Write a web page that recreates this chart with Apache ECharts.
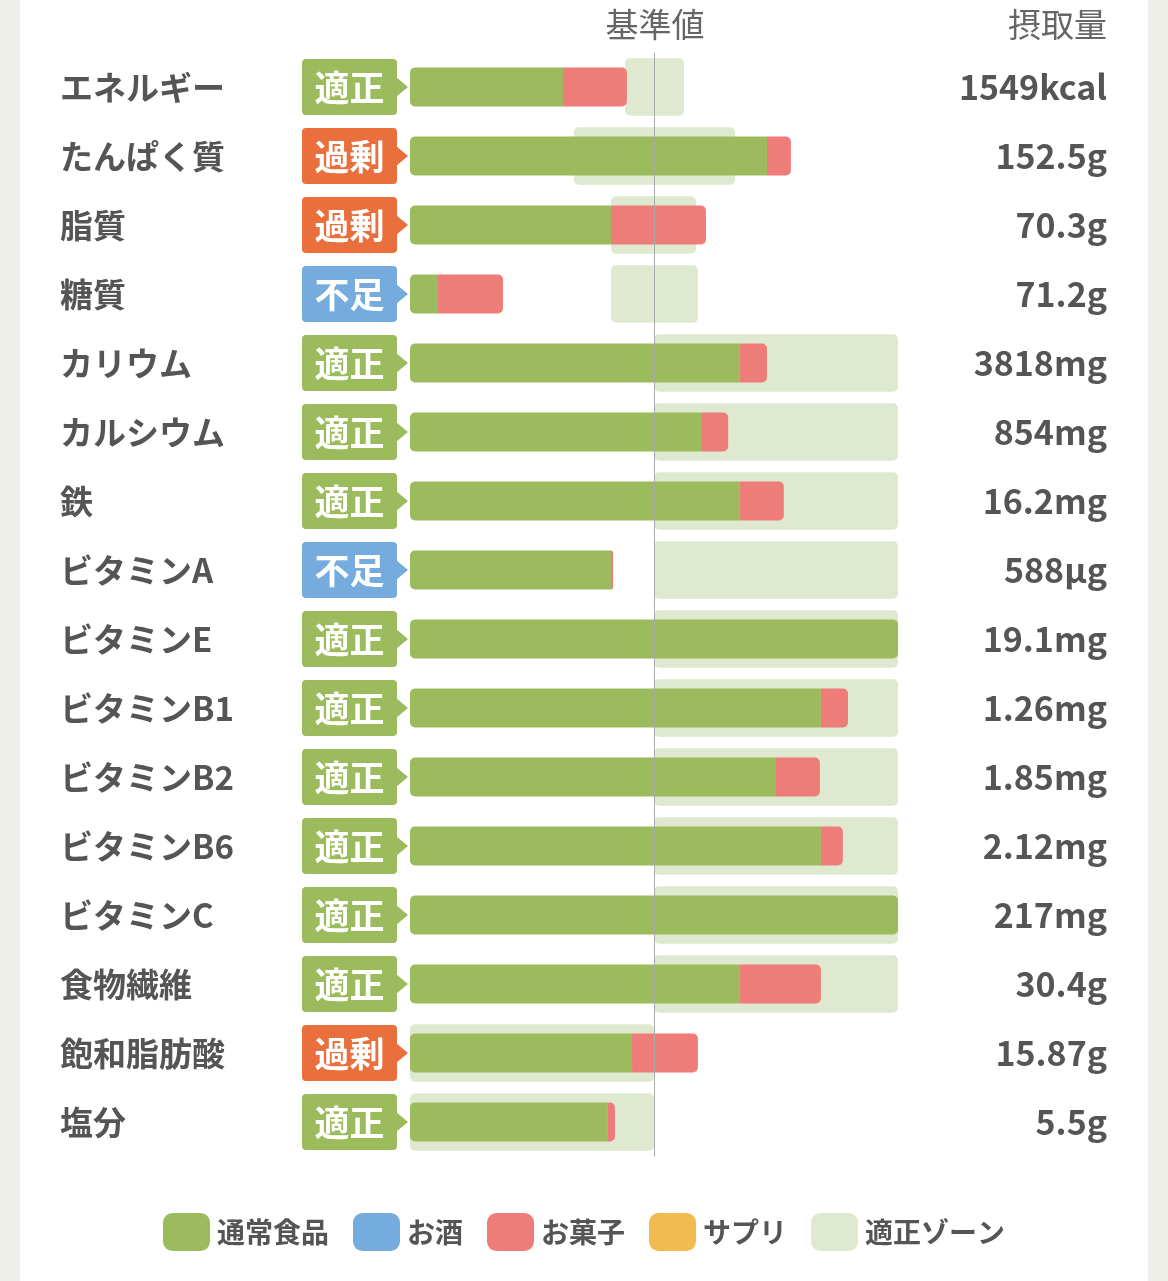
<html>
<head>
  <meta charset="utf-8">
  <title></title>
  <style>
    body { margin: 0; background: #efefe9; }
    #card { position: absolute; left: 20px; top: 0; width: 1128px; height: 1281px; background: #fff; }
    #main { position: absolute; left: 0; top: 0; width: 1168px; height: 1281px; }
  </style>
</head>
<body>
  <div id="card"></div>
  <div id="main"></div>
</body>
<script src="https://cdn.jsdelivr.net/npm/echarts@6/dist/echarts.min.js"></script>
<script>
  // 基準値 = 100%
  let nutrients = ['エネルギー', 'たんぱく質', '脂質', '糖質', 'カリウム', 'カルシウム', '鉄', 'ビタミンA',
    'ビタミンE', 'ビタミンB1', 'ビタミンB2', 'ビタミンB6', 'ビタミンC', '食物繊維', '飽和脂肪酸', '塩分'];
  let amounts = ['1549kcal', '152.5g', '70.3g', '71.2g', '3818mg', '854mg', '16.2mg', '588µg',
    '19.1mg', '1.26mg', '1.85mg', '2.12mg', '217mg', '30.4g', '15.87g', '5.5g'];
  let status = ['適正', '過剰', '過剰', '不足', '適正', '適正', '適正', '不足',
    '適正', '適正', '適正', '適正', '適正', '適正', '過剰', '適正'];
  let food = [62.7, 146.3, 82.4, 11.1, 135.2, 119.3, 135.2, 82.4, 200, 168.4, 150, 168.4, 200, 135.2, 91.0, 81.1];
  let alcohol = [0, 0, 0, 0, 0, 0, 0, 0, 0, 0, 0, 0, 0, 0, 0, 0];
  let snack = [26.2, 9.8, 38.9, 27.0, 11.1, 11.1, 18.0, 0.8, 0, 11.1, 18.0, 9.0, 0, 33.2, 27.0, 2.9];
  let supplement = [0, 0, 0, 0, 0, 0, 0, 0, 0, 0, 0, 0, 0, 0, 0, 0];
  let zoneLow = [88.1, 67.2, 82.4, 82.4, 100, 100, 100, 100, 100, 100, 100, 100, 100, 100, 0, 0];
  let zoneHigh = [112.3, 133.2, 117.2, 118.0, 200, 200, 200, 200, 200, 200, 200, 200, 200, 200, 100, 100];

  let colors = { food: '#9bbb5c', alcohol: '#75acdd', snack: '#ee7d7a', supplement: '#f2bb52', zone: '#dfe9cf' };
  let statusColor = { '適正': '#9bbb5c', '過剰': '#e9703c', '不足': '#75acdd' };
  let font = '"Noto Sans CJK JP", "Noto Sans", sans-serif';

  var myChart = echarts.init(document.getElementById('main'));

  let foodData = food.map((v, i) => ({
    value: v,
    itemStyle: { borderRadius: (snack[i] + alcohol[i] + supplement[i]) > 0 ? [5, 0, 0, 5] : 5 }
  }));
  let snackData = snack.map(v => ({ value: v, itemStyle: { borderRadius: [0, 5, 5, 0] } }));

  let option = {
    textStyle: { fontFamily: font },
    grid: { left: 410, right: 270, top: 52.5, height: 1104 },
    xAxis: { type: 'value', min: 0, max: 200, show: false },
    yAxis: [{
      type: 'category', data: nutrients, inverse: true,
      axisLine: { show: false }, axisTick: { show: false },
      axisLabel: { align: 'left', margin: 350, fontSize: 33, fontWeight: 'bold', color: '#555', fontFamily: font }
    }, {
      type: 'category', data: amounts, inverse: true, position: 'right',
      axisLine: { show: false }, axisTick: { show: false },
      axisLabel: { align: 'right', margin: 209, fontSize: 34, fontWeight: 'bold', color: '#555', fontFamily: font }
    }],
    legend: {
      bottom: 25, left: 'center', icon: 'roundRect',
      itemWidth: 47, itemHeight: 38, itemGap: 24,
      textStyle: { fontSize: 28, fontWeight: 'bold', color: '#555', fontFamily: font, padding: [0, 0, 0, 2] },
      data: ['通常食品', 'お酒', 'お菓子', 'サプリ', '適正ゾーン']
    },
    graphic: [
      { type: 'text', x: 655, y: 24, style: { text: '基準値', fontSize: 33, fill: '#666', align: 'center', verticalAlign: 'middle', fontFamily: font } },
      { type: 'text', x: 1107, y: 24, style: { text: '摂取量', fontSize: 33, fill: '#666', align: 'right', verticalAlign: 'middle', fontFamily: font } }
    ],
    series: [
      {
        name: '適正ゾーン', type: 'custom', z: 1,
        itemStyle: { color: colors.zone },
        encode: { x: [0, 1], y: 2 },
        data: zoneLow.map((v, i) => [v, zoneHigh[i], i]),
        renderItem: function (params, api) {
          let s = api.coord([api.value(0), api.value(2)]);
          let e = api.coord([api.value(1), api.value(2)]);
          let h = api.size([0, 1])[1] * 0.83;
          return {
            type: 'rect',
            shape: { x: s[0], y: s[1] - h / 2, width: e[0] - s[0], height: h, r: 5 },
            style: { fill: colors.zone }
          };
        }
      },
      { name: '通常食品', type: 'bar', stack: 'd', barWidth: 39, z: 2, itemStyle: { color: colors.food }, data: foodData },
      { name: 'お酒', type: 'bar', stack: 'd', barWidth: 39, z: 2, itemStyle: { color: colors.alcohol }, data: alcohol },
      { name: 'お菓子', type: 'bar', stack: 'd', barWidth: 39, z: 2, itemStyle: { color: colors.snack }, data: snackData },
      { name: 'サプリ', type: 'bar', stack: 'd', barWidth: 39, z: 2, itemStyle: { color: colors.supplement }, data: supplement },
      {
        name: 'status', type: 'custom', z: 3,
        encode: { x: 0, y: 1 },
        data: status.map((s, i) => [0, i]),
        renderItem: function (params, api) {
          let c = api.coord([0, api.value(1)]);
          let h = api.size([0, 1])[1] * 0.81;
          let x0 = c[0] - 108, x1 = c[0] - 13, tip = c[0] - 2, cy = c[1];
          let label = status[params.dataIndex];
          let col = statusColor[label];
          return {
            type: 'group',
            children: [
              { type: 'rect', shape: { x: x0, y: cy - h / 2, width: x1 - x0, height: h, r: 4 }, style: { fill: col } },
              { type: 'polygon', shape: { points: [[x1 - 1, cy - 10], [tip, cy], [x1 - 1, cy + 10]] }, style: { fill: col } },
              { type: 'text', x: (x0 + x1) / 2, y: cy + 1, style: { text: label, fill: '#fff', fontSize: 35, fontWeight: 'bold', align: 'center', verticalAlign: 'middle', fontFamily: font } }
            ]
          };
        }
      },
      {
        name: 'base', type: 'line', z: 10, data: [], silent: true,
        markLine: {
          symbol: 'none', silent: true, label: { show: false },
          lineStyle: { color: '#aaa', width: 1, type: 'solid' },
          data: [{ xAxis: 100 }]
        }
      }
    ]
  };

  myChart.setOption(option);
</script>
</html>
